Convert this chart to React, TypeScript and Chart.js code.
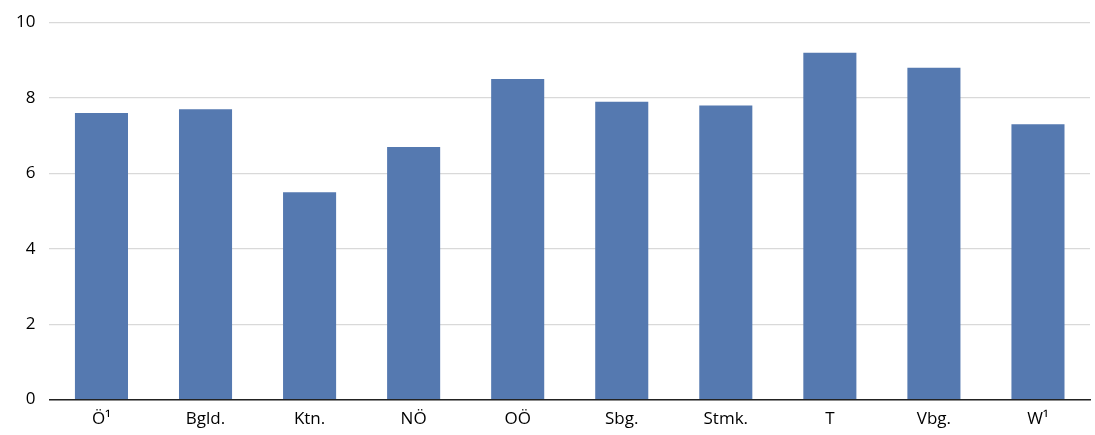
import React, { useEffect, useRef } from "react";
import { Chart, registerables } from "chart.js";

Chart.register(...registerables);

const categories = ["Ö¹", "Bgld.", "Ktn.", "NÖ", "OÖ", "Sbg.", "Stmk.", "T", "Vbg.", "W¹"];
const values = [7.6, 7.7, 5.5, 6.7, 8.5, 7.9, 7.8, 9.2, 8.8, 7.3];
const yMin = 0;
const yMax = 10;
const yStep = 2;

export default function App() {
  const ref = useRef<HTMLCanvasElement | null>(null);
  useEffect(() => {
    document.body.style.margin = "0";
    const chart = new Chart(ref.current!, {
      type: "bar",
      data: {
        labels: categories,
        datasets: [
          {
            data: values,
            backgroundColor: "#5579b0",
            barPercentage: 0.51,
            categoryPercentage: 1,
          },
        ],
      },
      options: {
        animation: false,
        responsive: false,
        maintainAspectRatio: false,
        layout: { padding: { top: 2, right: 5, left: 2, bottom: -3 } },
        plugins: { legend: { display: false }, tooltip: { enabled: false } },
        scales: {
          x: {
            grid: { display: false, drawTicks: false },
            border: { color: "#222", width: 1.5 },
            ticks: { color: "#000", font: { family: "Open Sans", size: 17 }, padding: 9 },
          },
          y: {
            min: yMin,
            max: yMax,
            ticks: { stepSize: yStep, color: "#000", font: { family: "Open Sans", size: 17, lineHeight: 1.0 }, padding: 14 },
            grid: { color: "#d9d9d9", lineWidth: 1.3, drawTicks: false },
            border: { display: false },
          },
        },
      },
    });
    return () => chart.destroy();
  }, []);
  return <canvas ref={ref} width={1095} height={435} style={{ display: "block" }} />;
}
